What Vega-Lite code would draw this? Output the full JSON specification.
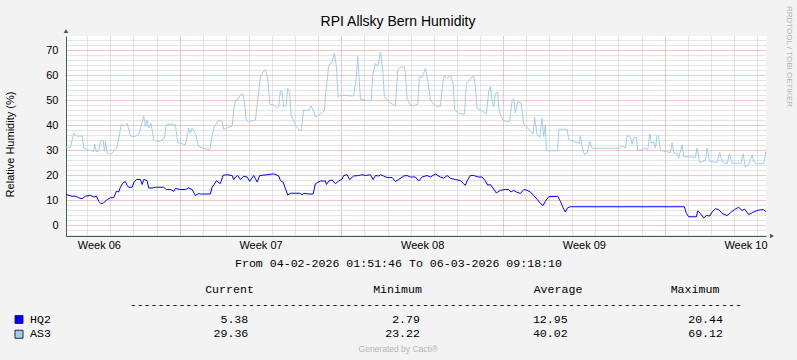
{
  "$schema": "https://vega.github.io/schema/vega-lite/v6.json",
  "width": 700,
  "height": 200,
  "autosize": {"type": "none"},
  "padding": {"left": 66, "top": 36, "right": 31, "bottom": 124},
  "background": "#F3F3F3",
  "title": {"text": "RPI Allsky Bern Humidity", "font": "Liberation Sans", "fontSize": 14, "fontWeight": "normal", "color": "#000000", "anchor": "middle", "frame": "group", "dx": -18, "offset": 0, "dy": 34.5, "baseline": "alphabetic"},
  "config": {"view": {"stroke": null, "fill": "#FFFFFF"}, "font": "Liberation Sans"},
  "datasets": {
    "humidity": [
      {"time": "2026-02-04T01:52", "series": "AS3", "value": 31.2},
      {"time": "2026-02-04T06:24", "series": "AS3", "value": 31.0},
      {"time": "2026-02-04T09:54", "series": "AS3", "value": 36.7},
      {"time": "2026-02-04T13:24", "series": "AS3", "value": 35.5},
      {"time": "2026-02-04T18:36", "series": "AS3", "value": 35.6},
      {"time": "2026-02-04T20:18", "series": "AS3", "value": 30.8},
      {"time": "2026-02-05T01:30", "series": "AS3", "value": 29.9},
      {"time": "2026-02-05T06:42", "series": "AS3", "value": 29.5},
      {"time": "2026-02-05T07:42", "series": "AS3", "value": 32.4},
      {"time": "2026-02-05T09:30", "series": "AS3", "value": 29.3},
      {"time": "2026-02-05T11:54", "series": "AS3", "value": 29.6},
      {"time": "2026-02-05T13:36", "series": "AS3", "value": 33.4},
      {"time": "2026-02-05T16:24", "series": "AS3", "value": 34.0},
      {"time": "2026-02-05T17:48", "series": "AS3", "value": 29.5},
      {"time": "2026-02-05T18:48", "series": "AS3", "value": 33.5},
      {"time": "2026-02-05T20:36", "series": "AS3", "value": 28.8},
      {"time": "2026-02-06T00:00", "series": "AS3", "value": 28.1},
      {"time": "2026-02-06T03:24", "series": "AS3", "value": 29.5},
      {"time": "2026-02-06T07:00", "series": "AS3", "value": 31.3},
      {"time": "2026-02-06T09:42", "series": "AS3", "value": 36.7},
      {"time": "2026-02-06T11:06", "series": "AS3", "value": 40.1},
      {"time": "2026-02-06T15:36", "series": "AS3", "value": 39.8},
      {"time": "2026-02-06T17:24", "series": "AS3", "value": 40.7},
      {"time": "2026-02-06T20:48", "series": "AS3", "value": 35.7},
      {"time": "2026-02-07T00:12", "series": "AS3", "value": 35.2},
      {"time": "2026-02-07T05:24", "series": "AS3", "value": 36.1},
      {"time": "2026-02-07T07:54", "series": "AS3", "value": 39.4},
      {"time": "2026-02-07T10:36", "series": "AS3", "value": 43.6},
      {"time": "2026-02-07T12:24", "series": "AS3", "value": 39.4},
      {"time": "2026-02-07T14:06", "series": "AS3", "value": 42.0},
      {"time": "2026-02-07T15:48", "series": "AS3", "value": 38.8},
      {"time": "2026-02-07T18:18", "series": "AS3", "value": 40.7},
      {"time": "2026-02-07T21:00", "series": "AS3", "value": 34.1},
      {"time": "2026-02-08T00:30", "series": "AS3", "value": 33.4},
      {"time": "2026-02-08T04:00", "series": "AS3", "value": 33.6},
      {"time": "2026-02-08T08:06", "series": "AS3", "value": 34.7},
      {"time": "2026-02-08T10:12", "series": "AS3", "value": 40.1},
      {"time": "2026-02-08T16:06", "series": "AS3", "value": 40.4},
      {"time": "2026-02-08T19:36", "series": "AS3", "value": 40.1},
      {"time": "2026-02-08T21:54", "series": "AS3", "value": 33.0},
      {"time": "2026-02-09T02:30", "series": "AS3", "value": 32.5},
      {"time": "2026-02-09T05:54", "series": "AS3", "value": 32.1},
      {"time": "2026-02-09T09:24", "series": "AS3", "value": 38.7},
      {"time": "2026-02-09T11:06", "series": "AS3", "value": 36.7},
      {"time": "2026-02-09T12:54", "series": "AS3", "value": 38.7},
      {"time": "2026-02-09T16:18", "series": "AS3", "value": 36.7},
      {"time": "2026-02-09T19:48", "series": "AS3", "value": 31.4},
      {"time": "2026-02-10T01:00", "series": "AS3", "value": 30.7},
      {"time": "2026-02-10T07:12", "series": "AS3", "value": 30.1},
      {"time": "2026-02-10T09:42", "series": "AS3", "value": 35.7},
      {"time": "2026-02-10T12:06", "series": "AS3", "value": 39.4},
      {"time": "2026-02-10T16:36", "series": "AS3", "value": 42.0},
      {"time": "2026-02-10T20:06", "series": "AS3", "value": 41.3},
      {"time": "2026-02-10T21:48", "series": "AS3", "value": 38.3},
      {"time": "2026-02-11T02:54", "series": "AS3", "value": 39.1},
      {"time": "2026-02-11T06:30", "series": "AS3", "value": 39.6},
      {"time": "2026-02-11T08:06", "series": "AS3", "value": 46.0},
      {"time": "2026-02-11T09:54", "series": "AS3", "value": 49.9},
      {"time": "2026-02-11T13:18", "series": "AS3", "value": 50.5},
      {"time": "2026-02-11T15:06", "series": "AS3", "value": 52.0},
      {"time": "2026-02-11T17:30", "series": "AS3", "value": 52.4},
      {"time": "2026-02-11T19:18", "series": "AS3", "value": 49.3},
      {"time": "2026-02-11T21:00", "series": "AS3", "value": 42.0},
      {"time": "2026-02-11T23:42", "series": "AS3", "value": 41.1},
      {"time": "2026-02-12T03:18", "series": "AS3", "value": 41.7},
      {"time": "2026-02-12T06:42", "series": "AS3", "value": 42.0},
      {"time": "2026-02-12T08:30", "series": "AS3", "value": 48.0},
      {"time": "2026-02-12T11:54", "series": "AS3", "value": 59.3},
      {"time": "2026-02-12T14:42", "series": "AS3", "value": 61.3},
      {"time": "2026-02-12T17:06", "series": "AS3", "value": 62.2},
      {"time": "2026-02-12T19:30", "series": "AS3", "value": 58.6},
      {"time": "2026-02-12T21:36", "series": "AS3", "value": 48.4},
      {"time": "2026-02-13T01:42", "series": "AS3", "value": 48.0},
      {"time": "2026-02-13T05:12", "series": "AS3", "value": 46.7},
      {"time": "2026-02-13T06:54", "series": "AS3", "value": 47.3},
      {"time": "2026-02-13T08:42", "series": "AS3", "value": 53.7},
      {"time": "2026-02-13T10:24", "series": "AS3", "value": 53.3},
      {"time": "2026-02-13T12:06", "series": "AS3", "value": 47.3},
      {"time": "2026-02-13T14:36", "series": "AS3", "value": 48.0},
      {"time": "2026-02-13T16:18", "series": "AS3", "value": 54.6},
      {"time": "2026-02-13T18:18", "series": "AS3", "value": 52.9},
      {"time": "2026-02-13T19:48", "series": "AS3", "value": 44.0},
      {"time": "2026-02-14T00:18", "series": "AS3", "value": 40.0},
      {"time": "2026-02-14T03:42", "series": "AS3", "value": 38.3},
      {"time": "2026-02-14T06:12", "series": "AS3", "value": 37.6},
      {"time": "2026-02-14T08:54", "series": "AS3", "value": 46.0},
      {"time": "2026-02-14T11:42", "series": "AS3", "value": 45.7},
      {"time": "2026-02-14T14:06", "series": "AS3", "value": 46.0},
      {"time": "2026-02-14T16:36", "series": "AS3", "value": 47.6},
      {"time": "2026-02-14T19:18", "series": "AS3", "value": 45.4},
      {"time": "2026-02-14T21:00", "series": "AS3", "value": 43.1},
      {"time": "2026-02-15T00:30", "series": "AS3", "value": 44.0},
      {"time": "2026-02-15T06:24", "series": "AS3", "value": 45.7},
      {"time": "2026-02-15T07:24", "series": "AS3", "value": 51.3},
      {"time": "2026-02-15T10:54", "series": "AS3", "value": 63.9},
      {"time": "2026-02-15T14:24", "series": "AS3", "value": 65.2},
      {"time": "2026-02-15T16:48", "series": "AS3", "value": 68.8},
      {"time": "2026-02-15T18:54", "series": "AS3", "value": 63.2},
      {"time": "2026-02-15T20:36", "series": "AS3", "value": 51.3},
      {"time": "2026-02-15T23:00", "series": "AS3", "value": 51.9},
      {"time": "2026-02-16T12:48", "series": "AS3", "value": 51.6},
      {"time": "2026-02-16T15:36", "series": "AS3", "value": 59.3},
      {"time": "2026-02-16T17:00", "series": "AS3", "value": 67.5},
      {"time": "2026-02-16T18:00", "series": "AS3", "value": 61.9},
      {"time": "2026-02-16T19:48", "series": "AS3", "value": 50.3},
      {"time": "2026-02-17T01:00", "series": "AS3", "value": 50.0},
      {"time": "2026-02-17T06:54", "series": "AS3", "value": 49.6},
      {"time": "2026-02-17T08:36", "series": "AS3", "value": 59.9},
      {"time": "2026-02-17T11:24", "series": "AS3", "value": 64.6},
      {"time": "2026-02-17T13:48", "series": "AS3", "value": 63.5},
      {"time": "2026-02-17T16:36", "series": "AS3", "value": 69.1},
      {"time": "2026-02-17T19:00", "series": "AS3", "value": 61.9},
      {"time": "2026-02-17T20:42", "series": "AS3", "value": 51.3},
      {"time": "2026-02-18T01:12", "series": "AS3", "value": 49.3},
      {"time": "2026-02-18T06:24", "series": "AS3", "value": 48.0},
      {"time": "2026-02-18T08:12", "series": "AS3", "value": 47.6},
      {"time": "2026-02-18T10:36", "series": "AS3", "value": 61.9},
      {"time": "2026-02-18T13:24", "series": "AS3", "value": 63.2},
      {"time": "2026-02-18T17:30", "series": "AS3", "value": 63.2},
      {"time": "2026-02-18T18:36", "series": "AS3", "value": 60.6},
      {"time": "2026-02-18T20:18", "series": "AS3", "value": 50.3},
      {"time": "2026-02-19T00:30", "series": "AS3", "value": 47.5},
      {"time": "2026-02-19T03:54", "series": "AS3", "value": 47.9},
      {"time": "2026-02-19T07:24", "series": "AS3", "value": 48.2},
      {"time": "2026-02-19T09:06", "series": "AS3", "value": 59.3},
      {"time": "2026-02-19T11:54", "series": "AS3", "value": 59.0},
      {"time": "2026-02-19T15:24", "series": "AS3", "value": 62.6},
      {"time": "2026-02-19T17:42", "series": "AS3", "value": 57.9},
      {"time": "2026-02-19T20:36", "series": "AS3", "value": 50.0},
      {"time": "2026-02-20T00:42", "series": "AS3", "value": 48.0},
      {"time": "2026-02-20T03:30", "series": "AS3", "value": 47.5},
      {"time": "2026-02-20T06:54", "series": "AS3", "value": 47.5},
      {"time": "2026-02-20T09:18", "series": "AS3", "value": 56.6},
      {"time": "2026-02-20T11:06", "series": "AS3", "value": 59.9},
      {"time": "2026-02-20T13:54", "series": "AS3", "value": 58.6},
      {"time": "2026-02-20T17:18", "series": "AS3", "value": 59.9},
      {"time": "2026-02-20T20:06", "series": "AS3", "value": 56.6},
      {"time": "2026-02-20T21:48", "series": "AS3", "value": 46.0},
      {"time": "2026-02-21T02:00", "series": "AS3", "value": 44.7},
      {"time": "2026-02-21T07:54", "series": "AS3", "value": 44.3},
      {"time": "2026-02-21T10:00", "series": "AS3", "value": 56.6},
      {"time": "2026-02-21T14:06", "series": "AS3", "value": 58.6},
      {"time": "2026-02-21T17:30", "series": "AS3", "value": 59.6},
      {"time": "2026-02-21T19:18", "series": "AS3", "value": 55.2},
      {"time": "2026-02-21T21:06", "series": "AS3", "value": 46.7},
      {"time": "2026-02-22T02:18", "series": "AS3", "value": 45.7},
      {"time": "2026-02-22T06:42", "series": "AS3", "value": 44.4},
      {"time": "2026-02-22T09:06", "series": "AS3", "value": 53.2},
      {"time": "2026-02-22T10:54", "series": "AS3", "value": 55.5},
      {"time": "2026-02-22T12:42", "series": "AS3", "value": 49.3},
      {"time": "2026-02-22T14:18", "series": "AS3", "value": 47.3},
      {"time": "2026-02-22T16:06", "series": "AS3", "value": 52.6},
      {"time": "2026-02-22T18:30", "series": "AS3", "value": 53.2},
      {"time": "2026-02-22T19:30", "series": "AS3", "value": 47.3},
      {"time": "2026-02-22T21:18", "series": "AS3", "value": 43.9},
      {"time": "2026-02-23T00:42", "series": "AS3", "value": 41.7},
      {"time": "2026-02-23T04:12", "series": "AS3", "value": 41.3},
      {"time": "2026-02-23T06:54", "series": "AS3", "value": 41.3},
      {"time": "2026-02-23T09:30", "series": "AS3", "value": 49.9},
      {"time": "2026-02-23T11:06", "series": "AS3", "value": 50.5},
      {"time": "2026-02-23T12:54", "series": "AS3", "value": 44.9},
      {"time": "2026-02-23T15:18", "series": "AS3", "value": 49.3},
      {"time": "2026-02-23T18:48", "series": "AS3", "value": 48.9},
      {"time": "2026-02-23T21:30", "series": "AS3", "value": 40.4},
      {"time": "2026-02-24T01:00", "series": "AS3", "value": 39.1},
      {"time": "2026-02-24T04:30", "series": "AS3", "value": 37.4},
      {"time": "2026-02-24T07:18", "series": "AS3", "value": 36.4},
      {"time": "2026-02-24T08:54", "series": "AS3", "value": 43.1},
      {"time": "2026-02-24T11:24", "series": "AS3", "value": 36.1},
      {"time": "2026-02-24T14:06", "series": "AS3", "value": 35.1},
      {"time": "2026-02-24T16:36", "series": "AS3", "value": 42.7},
      {"time": "2026-02-24T18:18", "series": "AS3", "value": 35.4},
      {"time": "2026-02-24T20:00", "series": "AS3", "value": 40.0},
      {"time": "2026-02-24T21:06", "series": "AS3", "value": 29.7},
      {"time": "2026-02-25T08:48", "series": "AS3", "value": 29.7},
      {"time": "2026-02-25T09:54", "series": "AS3", "value": 38.3},
      {"time": "2026-02-25T18:36", "series": "AS3", "value": 38.3},
      {"time": "2026-02-25T20:18", "series": "AS3", "value": 34.1},
      {"time": "2026-02-26T01:30", "series": "AS3", "value": 33.4},
      {"time": "2026-02-26T07:24", "series": "AS3", "value": 32.6},
      {"time": "2026-02-26T08:24", "series": "AS3", "value": 35.7},
      {"time": "2026-02-26T10:12", "series": "AS3", "value": 31.4},
      {"time": "2026-02-26T12:36", "series": "AS3", "value": 28.1},
      {"time": "2026-02-26T15:24", "series": "AS3", "value": 28.8},
      {"time": "2026-02-26T18:06", "series": "AS3", "value": 33.4},
      {"time": "2026-02-26T20:36", "series": "AS3", "value": 30.7},
      {"time": "2026-02-28T00:12", "series": "AS3", "value": 30.7},
      {"time": "2026-02-28T03:48", "series": "AS3", "value": 31.7},
      {"time": "2026-02-28T07:12", "series": "AS3", "value": 30.7},
      {"time": "2026-02-28T09:00", "series": "AS3", "value": 35.7},
      {"time": "2026-02-28T12:24", "series": "AS3", "value": 35.2},
      {"time": "2026-02-28T14:06", "series": "AS3", "value": 32.3},
      {"time": "2026-02-28T15:48", "series": "AS3", "value": 34.9},
      {"time": "2026-02-28T18:36", "series": "AS3", "value": 35.2},
      {"time": "2026-02-28T20:00", "series": "AS3", "value": 29.8},
      {"time": "2026-03-01T00:30", "series": "AS3", "value": 30.1},
      {"time": "2026-03-01T02:54", "series": "AS3", "value": 30.8},
      {"time": "2026-03-01T06:24", "series": "AS3", "value": 30.1},
      {"time": "2026-03-01T08:24", "series": "AS3", "value": 36.4},
      {"time": "2026-03-01T10:12", "series": "AS3", "value": 32.8},
      {"time": "2026-03-01T12:36", "series": "AS3", "value": 33.1},
      {"time": "2026-03-01T14:24", "series": "AS3", "value": 30.7},
      {"time": "2026-03-01T16:06", "series": "AS3", "value": 35.7},
      {"time": "2026-03-01T17:48", "series": "AS3", "value": 35.2},
      {"time": "2026-03-01T19:36", "series": "AS3", "value": 29.8},
      {"time": "2026-03-02T06:00", "series": "AS3", "value": 29.0},
      {"time": "2026-03-02T07:42", "series": "AS3", "value": 33.0},
      {"time": "2026-03-02T09:24", "series": "AS3", "value": 29.0},
      {"time": "2026-03-02T12:54", "series": "AS3", "value": 28.5},
      {"time": "2026-03-02T14:36", "series": "AS3", "value": 26.8},
      {"time": "2026-03-02T18:06", "series": "AS3", "value": 32.1},
      {"time": "2026-03-02T19:48", "series": "AS3", "value": 27.4},
      {"time": "2026-03-03T07:54", "series": "AS3", "value": 27.1},
      {"time": "2026-03-03T09:42", "series": "AS3", "value": 30.7},
      {"time": "2026-03-03T12:24", "series": "AS3", "value": 25.0},
      {"time": "2026-03-03T18:18", "series": "AS3", "value": 25.8},
      {"time": "2026-03-03T20:06", "series": "AS3", "value": 30.7},
      {"time": "2026-03-03T22:48", "series": "AS3", "value": 25.4},
      {"time": "2026-03-04T06:30", "series": "AS3", "value": 25.0},
      {"time": "2026-03-04T09:12", "series": "AS3", "value": 29.0},
      {"time": "2026-03-04T11:42", "series": "AS3", "value": 25.4},
      {"time": "2026-03-04T16:54", "series": "AS3", "value": 24.5},
      {"time": "2026-03-04T19:18", "series": "AS3", "value": 28.5},
      {"time": "2026-03-04T22:06", "series": "AS3", "value": 24.7},
      {"time": "2026-03-05T07:24", "series": "AS3", "value": 24.7},
      {"time": "2026-03-05T09:30", "series": "AS3", "value": 28.5},
      {"time": "2026-03-05T11:54", "series": "AS3", "value": 23.2},
      {"time": "2026-03-05T15:18", "series": "AS3", "value": 24.2},
      {"time": "2026-03-05T18:54", "series": "AS3", "value": 28.1},
      {"time": "2026-03-05T20:30", "series": "AS3", "value": 25.5},
      {"time": "2026-03-05T22:18", "series": "AS3", "value": 24.5},
      {"time": "2026-03-06T06:54", "series": "AS3", "value": 24.5},
      {"time": "2026-03-06T09:18", "series": "AS3", "value": 29.4},
      {"time": "2026-02-04T01:52", "series": "HQ2", "value": 12.2},
      {"time": "2026-02-04T08:12", "series": "HQ2", "value": 11.5},
      {"time": "2026-02-04T11:36", "series": "HQ2", "value": 11.5},
      {"time": "2026-02-04T15:06", "series": "HQ2", "value": 10.9},
      {"time": "2026-02-04T18:36", "series": "HQ2", "value": 10.5},
      {"time": "2026-02-04T22:00", "series": "HQ2", "value": 11.5},
      {"time": "2026-02-05T03:12", "series": "HQ2", "value": 11.9},
      {"time": "2026-02-05T06:42", "series": "HQ2", "value": 11.2},
      {"time": "2026-02-05T09:30", "series": "HQ2", "value": 11.5},
      {"time": "2026-02-05T11:54", "series": "HQ2", "value": 9.5},
      {"time": "2026-02-05T14:18", "series": "HQ2", "value": 8.5},
      {"time": "2026-02-05T17:00", "series": "HQ2", "value": 8.9},
      {"time": "2026-02-05T20:36", "series": "HQ2", "value": 10.1},
      {"time": "2026-02-06T00:00", "series": "HQ2", "value": 10.9},
      {"time": "2026-02-06T03:24", "series": "HQ2", "value": 10.9},
      {"time": "2026-02-06T06:12", "series": "HQ2", "value": 13.5},
      {"time": "2026-02-06T08:36", "series": "HQ2", "value": 13.2},
      {"time": "2026-02-06T10:24", "series": "HQ2", "value": 15.1},
      {"time": "2026-02-06T13:12", "series": "HQ2", "value": 16.9},
      {"time": "2026-02-06T15:36", "series": "HQ2", "value": 17.4},
      {"time": "2026-02-06T17:24", "series": "HQ2", "value": 15.8},
      {"time": "2026-02-06T19:00", "series": "HQ2", "value": 15.1},
      {"time": "2026-02-06T22:36", "series": "HQ2", "value": 15.1},
      {"time": "2026-02-07T00:12", "series": "HQ2", "value": 16.9},
      {"time": "2026-02-07T03:00", "series": "HQ2", "value": 18.2},
      {"time": "2026-02-07T07:12", "series": "HQ2", "value": 18.2},
      {"time": "2026-02-07T09:00", "series": "HQ2", "value": 16.2},
      {"time": "2026-02-07T10:36", "series": "HQ2", "value": 18.2},
      {"time": "2026-02-07T14:06", "series": "HQ2", "value": 17.8},
      {"time": "2026-02-07T15:48", "series": "HQ2", "value": 14.8},
      {"time": "2026-02-07T19:18", "series": "HQ2", "value": 14.8},
      {"time": "2026-02-07T22:48", "series": "HQ2", "value": 15.1},
      {"time": "2026-02-08T07:24", "series": "HQ2", "value": 15.1},
      {"time": "2026-02-08T10:12", "series": "HQ2", "value": 14.2},
      {"time": "2026-02-08T14:24", "series": "HQ2", "value": 14.2},
      {"time": "2026-02-08T17:48", "series": "HQ2", "value": 13.5},
      {"time": "2026-02-08T19:36", "series": "HQ2", "value": 14.6},
      {"time": "2026-02-09T00:48", "series": "HQ2", "value": 14.2},
      {"time": "2026-02-09T05:54", "series": "HQ2", "value": 14.2},
      {"time": "2026-02-09T09:24", "series": "HQ2", "value": 14.8},
      {"time": "2026-02-09T12:54", "series": "HQ2", "value": 14.2},
      {"time": "2026-02-09T16:18", "series": "HQ2", "value": 11.8},
      {"time": "2026-02-09T19:48", "series": "HQ2", "value": 12.6},
      {"time": "2026-02-09T21:30", "series": "HQ2", "value": 12.4},
      {"time": "2026-02-10T07:54", "series": "HQ2", "value": 12.4},
      {"time": "2026-02-10T09:42", "series": "HQ2", "value": 15.1},
      {"time": "2026-02-10T11:24", "series": "HQ2", "value": 16.0},
      {"time": "2026-02-10T14:12", "series": "HQ2", "value": 17.7},
      {"time": "2026-02-10T16:36", "series": "HQ2", "value": 16.9},
      {"time": "2026-02-10T18:18", "series": "HQ2", "value": 16.6},
      {"time": "2026-02-10T21:06", "series": "HQ2", "value": 19.9},
      {"time": "2026-02-11T01:18", "series": "HQ2", "value": 20.1},
      {"time": "2026-02-11T06:30", "series": "HQ2", "value": 19.8},
      {"time": "2026-02-11T08:06", "series": "HQ2", "value": 18.2},
      {"time": "2026-02-11T09:54", "series": "HQ2", "value": 19.2},
      {"time": "2026-02-11T12:18", "series": "HQ2", "value": 19.8},
      {"time": "2026-02-11T15:06", "series": "HQ2", "value": 18.2},
      {"time": "2026-02-11T18:30", "series": "HQ2", "value": 19.5},
      {"time": "2026-02-11T22:06", "series": "HQ2", "value": 19.2},
      {"time": "2026-02-12T00:48", "series": "HQ2", "value": 17.5},
      {"time": "2026-02-12T04:54", "series": "HQ2", "value": 19.8},
      {"time": "2026-02-12T08:30", "series": "HQ2", "value": 17.2},
      {"time": "2026-02-12T11:12", "series": "HQ2", "value": 19.8},
      {"time": "2026-02-12T18:54", "series": "HQ2", "value": 20.1},
      {"time": "2026-02-13T00:00", "series": "HQ2", "value": 20.4},
      {"time": "2026-02-13T02:24", "series": "HQ2", "value": 20.4},
      {"time": "2026-02-13T06:54", "series": "HQ2", "value": 19.6},
      {"time": "2026-02-13T08:42", "series": "HQ2", "value": 17.8},
      {"time": "2026-02-13T11:30", "series": "HQ2", "value": 17.1},
      {"time": "2026-02-13T16:18", "series": "HQ2", "value": 12.0},
      {"time": "2026-02-13T19:06", "series": "HQ2", "value": 12.7},
      {"time": "2026-02-14T00:18", "series": "HQ2", "value": 12.7},
      {"time": "2026-02-14T05:30", "series": "HQ2", "value": 12.7},
      {"time": "2026-02-14T07:12", "series": "HQ2", "value": 12.0},
      {"time": "2026-02-14T08:54", "series": "HQ2", "value": 12.7},
      {"time": "2026-02-14T14:06", "series": "HQ2", "value": 12.4},
      {"time": "2026-02-14T18:42", "series": "HQ2", "value": 12.4},
      {"time": "2026-02-14T21:00", "series": "HQ2", "value": 16.5},
      {"time": "2026-02-15T02:12", "series": "HQ2", "value": 17.6},
      {"time": "2026-02-15T07:24", "series": "HQ2", "value": 17.6},
      {"time": "2026-02-15T08:30", "series": "HQ2", "value": 16.2},
      {"time": "2026-02-15T10:54", "series": "HQ2", "value": 17.6},
      {"time": "2026-02-15T14:24", "series": "HQ2", "value": 18.0},
      {"time": "2026-02-15T17:48", "series": "HQ2", "value": 16.5},
      {"time": "2026-02-15T21:18", "series": "HQ2", "value": 17.6},
      {"time": "2026-02-16T00:48", "series": "HQ2", "value": 18.4},
      {"time": "2026-02-16T02:30", "series": "HQ2", "value": 19.8},
      {"time": "2026-02-16T06:00", "series": "HQ2", "value": 20.1},
      {"time": "2026-02-16T08:42", "series": "HQ2", "value": 18.2},
      {"time": "2026-02-16T12:48", "series": "HQ2", "value": 19.6},
      {"time": "2026-02-16T18:00", "series": "HQ2", "value": 19.8},
      {"time": "2026-02-16T21:36", "series": "HQ2", "value": 20.1},
      {"time": "2026-02-17T01:00", "series": "HQ2", "value": 19.8},
      {"time": "2026-02-17T06:12", "series": "HQ2", "value": 20.1},
      {"time": "2026-02-17T09:00", "series": "HQ2", "value": 18.2},
      {"time": "2026-02-17T11:24", "series": "HQ2", "value": 19.8},
      {"time": "2026-02-17T14:48", "series": "HQ2", "value": 19.6},
      {"time": "2026-02-17T16:36", "series": "HQ2", "value": 20.1},
      {"time": "2026-02-17T20:00", "series": "HQ2", "value": 19.6},
      {"time": "2026-02-17T23:36", "series": "HQ2", "value": 19.0},
      {"time": "2026-02-18T04:42", "series": "HQ2", "value": 19.0},
      {"time": "2026-02-18T08:12", "series": "HQ2", "value": 17.4},
      {"time": "2026-02-18T11:36", "series": "HQ2", "value": 18.2},
      {"time": "2026-02-18T16:48", "series": "HQ2", "value": 19.6},
      {"time": "2026-02-18T20:18", "series": "HQ2", "value": 19.8},
      {"time": "2026-02-18T23:48", "series": "HQ2", "value": 19.2},
      {"time": "2026-02-19T05:00", "series": "HQ2", "value": 19.2},
      {"time": "2026-02-19T08:24", "series": "HQ2", "value": 17.6},
      {"time": "2026-02-19T11:54", "series": "HQ2", "value": 19.2},
      {"time": "2026-02-19T17:06", "series": "HQ2", "value": 19.8},
      {"time": "2026-02-19T20:36", "series": "HQ2", "value": 19.2},
      {"time": "2026-02-20T01:42", "series": "HQ2", "value": 20.4},
      {"time": "2026-02-20T06:54", "series": "HQ2", "value": 19.2},
      {"time": "2026-02-20T10:24", "series": "HQ2", "value": 18.7},
      {"time": "2026-02-20T13:54", "series": "HQ2", "value": 19.8},
      {"time": "2026-02-20T17:18", "series": "HQ2", "value": 18.7},
      {"time": "2026-02-20T22:30", "series": "HQ2", "value": 18.2},
      {"time": "2026-02-21T03:42", "series": "HQ2", "value": 17.8},
      {"time": "2026-02-21T07:06", "series": "HQ2", "value": 16.5},
      {"time": "2026-02-21T08:54", "series": "HQ2", "value": 15.9},
      {"time": "2026-02-21T10:42", "series": "HQ2", "value": 17.6},
      {"time": "2026-02-21T14:06", "series": "HQ2", "value": 19.8},
      {"time": "2026-02-21T17:30", "series": "HQ2", "value": 19.8},
      {"time": "2026-02-21T22:42", "series": "HQ2", "value": 19.2},
      {"time": "2026-02-22T02:18", "series": "HQ2", "value": 19.2},
      {"time": "2026-02-22T05:42", "series": "HQ2", "value": 17.6},
      {"time": "2026-02-22T08:06", "series": "HQ2", "value": 15.9},
      {"time": "2026-02-22T10:54", "series": "HQ2", "value": 16.2},
      {"time": "2026-02-22T14:18", "series": "HQ2", "value": 14.4},
      {"time": "2026-02-22T17:06", "series": "HQ2", "value": 12.8},
      {"time": "2026-02-22T21:18", "series": "HQ2", "value": 13.9},
      {"time": "2026-02-23T02:30", "series": "HQ2", "value": 14.2},
      {"time": "2026-02-23T05:54", "series": "HQ2", "value": 14.2},
      {"time": "2026-02-23T08:24", "series": "HQ2", "value": 13.2},
      {"time": "2026-02-23T11:06", "series": "HQ2", "value": 13.9},
      {"time": "2026-02-23T13:54", "series": "HQ2", "value": 13.2},
      {"time": "2026-02-23T18:06", "series": "HQ2", "value": 12.6},
      {"time": "2026-02-23T21:30", "series": "HQ2", "value": 14.2},
      {"time": "2026-02-24T01:00", "series": "HQ2", "value": 13.9},
      {"time": "2026-02-24T04:30", "series": "HQ2", "value": 13.2},
      {"time": "2026-02-24T07:54", "series": "HQ2", "value": 11.8},
      {"time": "2026-02-24T11:24", "series": "HQ2", "value": 10.3},
      {"time": "2026-02-24T14:54", "series": "HQ2", "value": 8.6},
      {"time": "2026-02-24T17:42", "series": "HQ2", "value": 7.8},
      {"time": "2026-02-24T20:00", "series": "HQ2", "value": 9.5},
      {"time": "2026-02-24T23:30", "series": "HQ2", "value": 11.3},
      {"time": "2026-02-25T08:48", "series": "HQ2", "value": 11.5},
      {"time": "2026-02-25T11:36", "series": "HQ2", "value": 9.5},
      {"time": "2026-02-25T14:30", "series": "HQ2", "value": 6.9},
      {"time": "2026-02-25T16:48", "series": "HQ2", "value": 5.2},
      {"time": "2026-02-25T19:12", "series": "HQ2", "value": 6.9},
      {"time": "2026-02-25T22:00", "series": "HQ2", "value": 7.3},
      {"time": "2026-03-02T20:30", "series": "HQ2", "value": 7.3},
      {"time": "2026-03-02T22:36", "series": "HQ2", "value": 4.6},
      {"time": "2026-03-03T01:00", "series": "HQ2", "value": 3.3},
      {"time": "2026-03-03T09:00", "series": "HQ2", "value": 3.3},
      {"time": "2026-03-03T10:18", "series": "HQ2", "value": 5.6},
      {"time": "2026-03-03T13:06", "series": "HQ2", "value": 4.6},
      {"time": "2026-03-03T16:36", "series": "HQ2", "value": 2.8},
      {"time": "2026-03-03T19:24", "series": "HQ2", "value": 3.8},
      {"time": "2026-03-03T22:48", "series": "HQ2", "value": 3.6},
      {"time": "2026-03-04T01:18", "series": "HQ2", "value": 5.2},
      {"time": "2026-03-04T04:42", "series": "HQ2", "value": 6.5},
      {"time": "2026-03-04T08:12", "series": "HQ2", "value": 6.2},
      {"time": "2026-03-04T11:42", "series": "HQ2", "value": 4.6},
      {"time": "2026-03-04T16:54", "series": "HQ2", "value": 3.8},
      {"time": "2026-03-04T20:18", "series": "HQ2", "value": 4.9},
      {"time": "2026-03-05T01:30", "series": "HQ2", "value": 6.4},
      {"time": "2026-03-05T04:54", "series": "HQ2", "value": 7.1},
      {"time": "2026-03-05T08:30", "series": "HQ2", "value": 5.8},
      {"time": "2026-03-05T10:54", "series": "HQ2", "value": 6.4},
      {"time": "2026-03-05T15:18", "series": "HQ2", "value": 4.2},
      {"time": "2026-03-05T18:54", "series": "HQ2", "value": 4.9},
      {"time": "2026-03-06T00:06", "series": "HQ2", "value": 5.8},
      {"time": "2026-03-06T03:30", "series": "HQ2", "value": 6.1},
      {"time": "2026-03-06T06:54", "series": "HQ2", "value": 6.1},
      {"time": "2026-03-06T09:18", "series": "HQ2", "value": 5.38}
    ],
    "stats": [
      {"series": "HQ2", "stat": "Current", "value": 5.38},
      {"series": "HQ2", "stat": "Minimum", "value": 2.79},
      {"series": "HQ2", "stat": "Average", "value": 12.95},
      {"series": "HQ2", "stat": "Maximum", "value": 20.44},
      {"series": "AS3", "stat": "Current", "value": 29.36},
      {"series": "AS3", "stat": "Minimum", "value": 23.22},
      {"series": "AS3", "stat": "Average", "value": 40.02},
      {"series": "AS3", "stat": "Maximum", "value": 69.12}
    ]
  },
  "layer": [
    {
      "layer": [
        {
          "data": {"name": "humidity"},
          "mark": {"type": "line", "strokeWidth": 1},
          "encoding": {
            "x": {
              "field": "time", "type": "temporal",
              "scale": {"domain": [{"year": 2026, "month": 2, "date": 4, "hours": 1, "minutes": 51, "seconds": 46}, {"year": 2026, "month": 3, "date": 6, "hours": 9, "minutes": 18, "seconds": 10}]},
              "axis": {
                "values": [
                  {"year": 2026, "month": 2, "date": 5}, {"year": 2026, "month": 2, "date": 6}, {"year": 2026, "month": 2, "date": 7}, {"year": 2026, "month": 2, "date": 8},
                  {"year": 2026, "month": 2, "date": 9}, {"year": 2026, "month": 2, "date": 10}, {"year": 2026, "month": 2, "date": 11}, {"year": 2026, "month": 2, "date": 12},
                  {"year": 2026, "month": 2, "date": 13}, {"year": 2026, "month": 2, "date": 14}, {"year": 2026, "month": 2, "date": 15}, {"year": 2026, "month": 2, "date": 16},
                  {"year": 2026, "month": 2, "date": 17}, {"year": 2026, "month": 2, "date": 18}, {"year": 2026, "month": 2, "date": 19}, {"year": 2026, "month": 2, "date": 20},
                  {"year": 2026, "month": 2, "date": 21}, {"year": 2026, "month": 2, "date": 22}, {"year": 2026, "month": 2, "date": 23}, {"year": 2026, "month": 2, "date": 24},
                  {"year": 2026, "month": 2, "date": 25}, {"year": 2026, "month": 2, "date": 26}, {"year": 2026, "month": 2, "date": 27}, {"year": 2026, "month": 2, "date": 28},
                  {"year": 2026, "month": 3, "date": 1}, {"year": 2026, "month": 3, "date": 2}, {"year": 2026, "month": 3, "date": 3}, {"year": 2026, "month": 3, "date": 4},
                  {"year": 2026, "month": 3, "date": 5}, {"year": 2026, "month": 3, "date": 6},
                  {"year": 2026, "month": 2, "date": 5, "hours": 12}, {"year": 2026, "month": 2, "date": 12, "hours": 12}, {"year": 2026, "month": 2, "date": 19, "hours": 12},
                  {"year": 2026, "month": 2, "date": 26, "hours": 12}, {"year": 2026, "month": 3, "date": 5, "hours": 12}
                ],
                "tickCount": 1000,
                "grid": true,
                "gridDash": [1, 1],
                "gridColor": {"condition": {"test": "day(datum.value) === 1 && hours(datum.value) === 0", "value": "#E58F8F"}, "value": "#C8C8C8"},
                "gridOpacity": {"condition": {"test": "hours(datum.value) === 12", "value": 0}, "value": 1},
                "ticks": false,
                "labelExpr": "hours(datum.value) === 12 ? 'Week ' + timeFormat(datum.value, '%V') : ''",
                "labelFont": "Liberation Sans", "labelFontSize": 11, "labelColor": "#000000", "labelPadding": 3,
                "labelOverlap": false, "labelFlush": false, "labelBound": false,
                "domainColor": "#3F5F55", "domainWidth": 1,
                "title": "From 04-02-2026 01:51:46 To 06-03-2026 09:18:10",
                "titleFont": "Liberation Mono", "titleFontSize": 11.6, "titleFontWeight": "normal", "titleColor": "#000000",
                "titleX": 332, "titleY": 27, "titleAlign": "center", "titleBaseline": "middle", "titleAnchor": null
              }
            },
            "y": {
              "field": "value", "type": "quantitative",
              "scale": {"domain": [-4.4, 75.6], "nice": false, "zero": false},
              "axis": {
                "values": [-4, -2, 0, 2, 4, 6, 8, 10, 12, 14, 16, 18, 20, 22, 24, 26, 28, 30, 32, 34, 36, 38, 40, 42, 44, 46, 48, 50, 52, 54, 56, 58, 60, 62, 64, 66, 68, 70, 72, 74],
                "tickCount": 1000,
                "grid": true,
                "gridDash": [1, 1],
                "gridColor": {"condition": {"test": "datum.value % 10 === 0", "value": "#E58F8F"}, "value": "#C8C8C8"},
                "ticks": false,
                "labelExpr": "datum.value % 10 === 0 ? format(datum.value, 'd') : ''",
                "labelFont": "Liberation Sans", "labelFontSize": 11, "labelColor": "#000000", "labelPadding": 8,
                "labelOverlap": false, "labelBound": false,
                "domainColor": "#3F5F55", "domainWidth": 1,
                "title": "Relative Humidity (%)",
                "titleFont": "Liberation Sans", "titleFontSize": 11, "titleFontWeight": "normal", "titleColor": "#000000",
                "titleX": -56, "titleY": 108, "titleAngle": -90, "titleAlign": "center", "titleBaseline": "middle", "titleAnchor": null
              }
            },
            "color": {"field": "series", "type": "nominal", "scale": {"domain": ["HQ2", "AS3"], "range": ["#0000FF", "#A0CFEC"]}, "legend": null}
          }
        },
        {
          "data": {"values": [{"end": "top"}]},
          "mark": {"type": "point", "shape": "triangle-up", "filled": true, "size": 22, "color": "#3F5F55", "opacity": 1},
          "encoding": {
            "x": {"datum": {"year": 2026, "month": 2, "date": 4, "hours": 1, "minutes": 51, "seconds": 46}, "type": "temporal"},
            "y": {"datum": 77.6, "type": "quantitative"}
          }
        },
        {
          "data": {"values": [{"end": "right"}]},
          "mark": {"type": "point", "shape": "triangle-right", "filled": true, "size": 22, "color": "#3F5F55", "opacity": 1},
          "encoding": {
            "x": {"datum": {"year": 2026, "month": 3, "date": 6, "hours": 15, "minutes": 30}, "type": "temporal"},
            "y": {"datum": -4.4, "type": "quantitative"}
          }
        }
      ]
    },
    {
      "data": {"name": "stats"},
      "transform": [{"filter": "datum.stat === 'Current'"}],
      "layer": [
        {
          "transform": [{"filter": "datum.series === 'HQ2'"}],
          "mark": {"type": "text", "font": "Liberation Mono", "fontSize": 11.6, "align": "center", "baseline": "middle", "color": "#000000"},
          "encoding": {
            "x": {"datum": "head", "type": "nominal", "scale": {"type": "point", "domain": ["head", "value"], "range": [163.5, 182.3], "padding": 0}, "axis": null},
            "y": {"datum": "header", "type": "nominal", "scale": {"type": "point", "domain": ["header", "dash", "HQ2", "AS3", "footer"], "range": [254, 313], "padding": 0}, "axis": null},
            "text": {"field": "stat"}
          }
        },
        {
          "mark": {"type": "text", "font": "Liberation Mono", "fontSize": 11.6, "align": "right", "baseline": "middle", "color": "#000000"},
          "encoding": {
            "x": {"datum": "value", "type": "nominal", "scale": {"type": "point", "domain": ["head", "value"], "range": [163.5, 182.3], "padding": 0}, "axis": null},
            "y": {"field": "series", "type": "nominal", "scale": {"type": "point", "domain": ["header", "dash", "HQ2", "AS3", "footer"], "range": [254, 313], "padding": 0}, "axis": null},
            "text": {"field": "value", "format": ".2f"}
          }
        }
      ]
    },
    {
      "data": {"name": "stats"},
      "transform": [{"filter": "datum.stat === 'Minimum'"}],
      "layer": [
        {
          "transform": [{"filter": "datum.series === 'HQ2'"}],
          "mark": {"type": "text", "font": "Liberation Mono", "fontSize": 11.6, "align": "center", "baseline": "middle", "color": "#000000"},
          "encoding": {
            "x": {"datum": "head", "type": "nominal", "scale": {"type": "point", "domain": ["head", "value"], "range": [331.5, 354], "padding": 0}, "axis": null},
            "y": {"datum": "header", "type": "nominal", "scale": {"type": "point", "domain": ["header", "dash", "HQ2", "AS3", "footer"], "range": [254, 313], "padding": 0}, "axis": null},
            "text": {"field": "stat"}
          }
        },
        {
          "mark": {"type": "text", "font": "Liberation Mono", "fontSize": 11.6, "align": "right", "baseline": "middle", "color": "#000000"},
          "encoding": {
            "x": {"datum": "value", "type": "nominal", "scale": {"type": "point", "domain": ["head", "value"], "range": [331.5, 354], "padding": 0}, "axis": null},
            "y": {"field": "series", "type": "nominal", "scale": {"type": "point", "domain": ["header", "dash", "HQ2", "AS3", "footer"], "range": [254, 313], "padding": 0}, "axis": null},
            "text": {"field": "value", "format": ".2f"}
          }
        }
      ]
    },
    {
      "data": {"name": "stats"},
      "transform": [{"filter": "datum.stat === 'Average'"}],
      "layer": [
        {
          "transform": [{"filter": "datum.series === 'HQ2'"}],
          "mark": {"type": "text", "font": "Liberation Mono", "fontSize": 11.6, "align": "center", "baseline": "middle", "color": "#000000"},
          "encoding": {
            "x": {"datum": "head", "type": "nominal", "scale": {"type": "point", "domain": ["head", "value"], "range": [492, 501.7], "padding": 0}, "axis": null},
            "y": {"datum": "header", "type": "nominal", "scale": {"type": "point", "domain": ["header", "dash", "HQ2", "AS3", "footer"], "range": [254, 313], "padding": 0}, "axis": null},
            "text": {"field": "stat"}
          }
        },
        {
          "mark": {"type": "text", "font": "Liberation Mono", "fontSize": 11.6, "align": "right", "baseline": "middle", "color": "#000000"},
          "encoding": {
            "x": {"datum": "value", "type": "nominal", "scale": {"type": "point", "domain": ["head", "value"], "range": [492, 501.7], "padding": 0}, "axis": null},
            "y": {"field": "series", "type": "nominal", "scale": {"type": "point", "domain": ["header", "dash", "HQ2", "AS3", "footer"], "range": [254, 313], "padding": 0}, "axis": null},
            "text": {"field": "value", "format": ".2f"}
          }
        }
      ]
    },
    {
      "data": {"name": "stats"},
      "transform": [{"filter": "datum.stat === 'Maximum'"}],
      "layer": [
        {
          "transform": [{"filter": "datum.series === 'HQ2'"}],
          "mark": {"type": "text", "font": "Liberation Mono", "fontSize": 11.6, "align": "center", "baseline": "middle", "color": "#000000"},
          "encoding": {
            "x": {"datum": "head", "type": "nominal", "scale": {"type": "point", "domain": ["head", "value"], "range": [629, 657], "padding": 0}, "axis": null},
            "y": {"datum": "header", "type": "nominal", "scale": {"type": "point", "domain": ["header", "dash", "HQ2", "AS3", "footer"], "range": [254, 313], "padding": 0}, "axis": null},
            "text": {"field": "stat"}
          }
        },
        {
          "mark": {"type": "text", "font": "Liberation Mono", "fontSize": 11.6, "align": "right", "baseline": "middle", "color": "#000000"},
          "encoding": {
            "x": {"datum": "value", "type": "nominal", "scale": {"type": "point", "domain": ["head", "value"], "range": [629, 657], "padding": 0}, "axis": null},
            "y": {"field": "series", "type": "nominal", "scale": {"type": "point", "domain": ["header", "dash", "HQ2", "AS3", "footer"], "range": [254, 313], "padding": 0}, "axis": null},
            "text": {"field": "value", "format": ".2f"}
          }
        }
      ]
    },
    {
      "data": {"name": "stats"},
      "transform": [{"filter": "datum.stat === 'Current'"}],
      "mark": {"type": "point", "shape": "square", "filled": true, "size": 64, "stroke": "#2A2A2A", "strokeWidth": 1, "opacity": 1},
      "encoding": {
        "x": {"datum": "swatch", "type": "nominal", "scale": {"type": "point", "domain": ["swatch", "name"], "range": [-47, -36], "padding": 0}, "axis": null},
        "y": {"field": "series", "type": "nominal", "scale": {"type": "point", "domain": ["header", "dash", "HQ2", "AS3", "footer"], "range": [254, 313], "padding": 0}, "axis": null},
        "color": {"field": "series", "type": "nominal", "legend": null}
      }
    },
    {
      "data": {"name": "stats"},
      "transform": [{"filter": "datum.stat === 'Current'"}],
      "mark": {"type": "text", "font": "Liberation Mono", "fontSize": 11.6, "align": "left", "baseline": "middle", "color": "#000000"},
      "encoding": {
        "x": {"datum": "name", "type": "nominal", "scale": {"type": "point", "domain": ["swatch", "name"], "range": [-47, -36], "padding": 0}, "axis": null},
        "y": {"field": "series", "type": "nominal", "scale": {"type": "point", "domain": ["header", "dash", "HQ2", "AS3", "footer"], "range": [254, 313], "padding": 0}, "axis": null},
        "text": {"field": "series"}
      }
    },
    {
      "data": {"values": [{"line": "----------------------------------------------------------------------------------------"}]},
      "mark": {"type": "text", "font": "Liberation Mono", "fontSize": 11.6, "align": "center", "baseline": "middle", "color": "#000000"},
      "encoding": {
        "x": {"datum": "table", "type": "nominal", "scale": {"type": "point", "domain": ["table"], "range": [369.8, 369.8], "padding": 0}, "axis": null},
        "y": {"datum": "dash", "type": "nominal", "scale": {"type": "point", "domain": ["header", "dash", "HQ2", "AS3", "footer"], "range": [254, 313], "padding": 0}, "axis": null},
        "text": {"field": "line"}
      }
    },
    {
      "data": {"values": [{"note": "Generated by Cacti®"}]},
      "mark": {"type": "text", "font": "Liberation Sans", "fontSize": 8.5, "align": "center", "baseline": "middle", "color": "#B4B4B4"},
      "encoding": {
        "x": {"datum": "page", "type": "nominal", "scale": {"type": "point", "domain": ["page"], "range": [332.3, 332.3], "padding": 0}, "axis": null},
        "y": {
          "datum": "footer", "type": "nominal",
          "scale": {"type": "point", "domain": ["header", "dash", "HQ2", "AS3", "footer"], "range": [254, 313], "padding": 0},
          "axis": {"orient": "right", "labels": false, "ticks": false, "domain": false, "grid": false,
            "title": "RRDTOOL / TOBI OETIKER", "titleFont": "Liberation Sans", "titleFontSize": 8, "titleFontWeight": "normal", "titleColor": "#B4B4B4",
            "titleAngle": 90, "titleX": 22, "titleY": 20, "titleAlign": "center", "titleBaseline": "middle", "titleAnchor": null}
        },
        "text": {"field": "note"}
      }
    }
  ],
  "resolve": {"scale": {"x": "independent", "y": "independent", "color": "shared"}, "axis": {"x": "independent", "y": "independent"}}
}
